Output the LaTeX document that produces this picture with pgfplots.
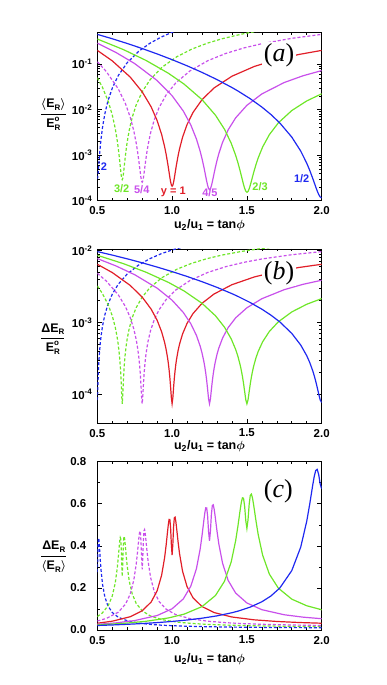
\documentclass[border=0pt]{standalone}
\usepackage{fontspec}
\setmainfont{Liberation Sans}
\newfontfamily\serifit{Liberation Serif}
\usepackage{pgfplots}
\pgfplotsset{compat=1.18}
\usepackage{pgfplotstable}

\definecolor{cblue}{RGB}{30,40,240}
\definecolor{cgreen}{RGB}{110,230,40}
\definecolor{cmag}{RGB}{200,80,235}
\definecolor{cred}{RGB}{225,30,40}

% columns: x, <E_R>/E_R^o, dE_R/E_R^o, dE_R/<E_R>
% y = 1
\pgfplotstableread{
x a b r
0.5 0.2003 0.006441 0.03215
0.6 0.1180 0.004940 0.04188
0.72 0.05191 0.003273 0.06306
0.8 0.02464 0.002250 0.09132
0.86 0.01151 0.001531 0.1330
0.9 0.005755 0.001073 0.1865
0.93 0.002851 0.0007421 0.2603
0.95 0.001533 0.0005275 0.3442
0.96 0.001049 0.0004223 0.4026
0.97 0.0006780 0.0003191 0.4706
0.975 0.0005337 0.0002685 0.5030
0.98 0.0004162 0.0002189 0.5259
0.985 0.0003253 0.0001710 0.5257
0.99 0.0002606 0.0001265 0.4856
0.995 0.0002216 0.00009010 0.4066
1.0 0.0002080 0.00007406 0.3561
1.005 0.0002194 0.00008965 0.4086
1.01 0.0002554 0.0001253 0.4905
1.015 0.0003157 0.0001685 0.5336
1.02 0.0003999 0.0002145 0.5365
1.025 0.0005077 0.0002618 0.5158
1.03 0.0006386 0.0003096 0.4849
1.04 0.0009685 0.0004058 0.4190
1.05 0.001387 0.0005018 0.3618
1.07 0.002478 0.0006920 0.2792
1.1 0.004713 0.0009712 0.2061
1.14 0.008704 0.001331 0.1529
1.2 0.01656 0.001845 0.1114
1.28 0.02987 0.002483 0.08312
1.4 0.05420 0.003349 0.06179
1.55 0.08903 0.004294 0.04823
1.7 0.1261 0.005111 0.04054
1.85 0.1635 0.005821 0.03561
2.0 0.2001 0.006440 0.03219
}\tabR

% y = 4/5
\pgfplotstableread{
x a b r
0.5 0.2884 0.007729 0.02680
0.625 0.1801 0.006106 0.03391
0.75 0.1027 0.004609 0.04488
0.9 0.04356 0.002998 0.06883
1.0 0.02022 0.002038 0.1008
1.075 0.009300 0.001376 0.1479
1.125 0.004612 0.0009599 0.2082
1.1625 0.002274 0.0006619 0.2910
1.1875 0.001223 0.0004700 0.3843
1.2 0.0008393 0.0003765 0.4485
1.2125 0.0005457 0.0002850 0.5223
1.21875 0.0004317 0.0002404 0.5569
1.225 0.0003391 0.0001969 0.5807
1.23125 0.0002675 0.0001553 0.5806
1.2375 0.0002165 0.0001172 0.5414
1.24375 0.0001857 0.00008688 0.4678
1.25 0.0001748 0.00007402 0.4234
1.25625 0.0001835 0.00008635 0.4707
1.2625 0.0002113 0.0001158 0.5481
1.26875 0.0002579 0.0001525 0.5914
1.275 0.0003230 0.0001922 0.5951
1.28125 0.0004062 0.0002332 0.5741
1.2875 0.0005072 0.0002748 0.5417
1.3 0.0007613 0.0003585 0.4709
1.3125 0.001083 0.0004422 0.4084
1.3375 0.001918 0.0006078 0.3169
1.375 0.003614 0.0008498 0.2351
1.425 0.006615 0.001160 0.1754
1.5 0.01245 0.001599 0.1285
1.6 0.02215 0.002138 0.09653
1.75 0.03950 0.002858 0.07237
1.875 0.05546 0.003389 0.06110
2.0 0.07209 0.003864 0.05361
}\tabM

% y = 2/3
\pgfplotstableread{
x a b r
0.5 0.3560 0.008588 0.02412
0.675 0.2082 0.006565 0.03154
0.825 0.1208 0.005000 0.04139
0.975 0.06306 0.003610 0.05725
1.08 0.03642 0.002741 0.07526
1.2 0.01660 0.001846 0.1112
1.29 0.007544 0.001238 0.1641
1.35 0.003719 0.0008608 0.2314
1.395 0.001832 0.0005924 0.3233
1.425 0.0009892 0.0004206 0.4252
1.44 0.0006826 0.0003372 0.4941
1.455 0.0004485 0.0002561 0.5709
1.4625 0.0003578 0.0002167 0.6056
1.47 0.0002841 0.0001785 0.6283
1.4775 0.0002271 0.0001423 0.6264
1.485 0.0001866 0.0001096 0.5875
1.4925 0.0001620 0.00008433 0.5204
1.5 0.0001532 0.00007395 0.4826
1.5075 0.0001598 0.00008375 0.5240
1.515 0.0001815 0.0001081 0.5957
1.5225 0.0002179 0.0001394 0.6395
1.53 0.0002688 0.0001736 0.6460
1.5375 0.0003338 0.0002093 0.6270
1.545 0.0004128 0.0002457 0.5952
1.56 0.0006110 0.0003191 0.5222
1.575 0.0008613 0.0003925 0.4557
1.605 0.001510 0.0005377 0.3562
1.65 0.002820 0.0007496 0.2658
1.71 0.005122 0.001020 0.1991
1.8 0.009551 0.001400 0.1466
1.9 0.01554 0.001790 0.1152
2.0 0.02232 0.002147 0.09622
}\tabG

% y = 1/2
\pgfplotstableread{
x a b r
0.5 0.4505 0.009661 0.02145
0.6 0.3607 0.008645 0.02397
0.7 0.2839 0.007669 0.02701
0.8 0.2199 0.006748 0.03069
0.9 0.1674 0.005888 0.03517
1.0 0.1253 0.005093 0.04065
1.1 0.09189 0.004360 0.04745
1.2 0.06581 0.003689 0.05606
1.3 0.04575 0.003075 0.06720
1.4 0.03060 0.002513 0.08213
1.44 0.02569 0.002302 0.08959
1.52 0.01757 0.001902 0.1082
1.6 0.01140 0.001529 0.1342
1.66 0.007848 0.001266 0.1614
1.72 0.005097 0.001017 0.1995
1.8 0.002494 0.0007043 0.2824
1.86 0.001228 0.0004842 0.3945
1.9 0.0006668 0.0003448 0.5171
1.92 0.0004639 0.0002777 0.5986
1.94 0.0003094 0.0002131 0.6886
1.95 0.0002497 0.0001821 0.7294
1.96 0.0002012 0.0001525 0.7580
1.97 0.0001637 0.0001250 0.7638
1.98 0.0001370 0.0001012 0.7387
1.99 0.0001208 0.00008380 0.6939
2.0 0.0001148 0.00007701 0.6708
}\tabB

% y = 3/2
\pgfplotstableread{
x a b r
0.5 0.05034 0.003221 0.06399
0.53333 0.03147 0.002542 0.08079
0.57333 0.01507 0.001751 0.1162
0.6 0.007661 0.001237 0.1615
0.62 0.003842 0.0008600 0.2238
0.63333 0.002083 0.0006129 0.2942
0.64 0.001432 0.0004909 0.3427
0.64667 0.0009301 0.0003703 0.3982
0.65 0.0007339 0.0003109 0.4236
0.65333 0.0005740 0.0002523 0.4395
0.65667 0.0004500 0.0001952 0.4338
0.66 0.0003615 0.0001412 0.3905
0.66333 0.0003083 0.00009525 0.3089
0.66667 0.0002901 0.00007386 0.2546
0.67 0.0003064 0.00009496 0.3099
0.67333 0.0003571 0.0001403 0.3929
0.67667 0.0004417 0.0001934 0.4378
0.68 0.0005600 0.0002492 0.4450
0.68333 0.0007117 0.0003061 0.4302
0.68667 0.0008964 0.0003636 0.4056
0.69333 0.001364 0.0004789 0.3513
0.7 0.001959 0.0005943 0.3034
0.71333 0.003525 0.0008238 0.2337
0.73333 0.006775 0.001163 0.1717
0.76 0.01269 0.001607 0.1266
0.8 0.02465 0.002250 0.09129
0.85333 0.04561 0.003068 0.06726
0.93333 0.08573 0.004211 0.04912
1.03333 0.1465 0.005508 0.03760
1.13333 0.2147 0.006670 0.03107
1.23333 0.2868 0.007709 0.02688
1.33333 0.3602 0.008640 0.02399
1.46667 0.4571 0.009735 0.02130
1.6 0.5507 0.01069 0.01940
1.8 0.6817 0.01189 0.01744
2.0 0.8001 0.01288 0.01610
}\tabGd

% y = 5/4
\pgfplotstableread{
x a b r
0.5 0.1128 0.004831 0.04281
0.56 0.06883 0.003770 0.05477
0.64 0.02868 0.002427 0.08464
0.688 0.01359 0.001663 0.1224
0.72 0.006863 0.001171 0.1707
0.744 0.003425 0.0008123 0.2372
0.76 0.001851 0.0005782 0.3124
0.768 0.001271 0.0004630 0.3644
0.776 0.0008239 0.0003494 0.4241
0.78 0.0006497 0.0002935 0.4518
0.784 0.0005079 0.0002386 0.4698
0.788 0.0003979 0.0001853 0.4656
0.792 0.0003196 0.0001351 0.4229
0.796 0.0002724 0.00009311 0.3418
0.8 0.0002561 0.00007399 0.2889
0.804 0.0002703 0.00009275 0.3432
0.808 0.0003146 0.0001341 0.4262
0.812 0.0003887 0.0001831 0.4711
0.816 0.0004922 0.0002349 0.4772
0.82 0.0006249 0.0002879 0.4607
0.824 0.0007862 0.0003413 0.4342
0.832 0.001194 0.0004487 0.3759
0.84 0.001712 0.0005561 0.3248
0.856 0.003070 0.0007691 0.2505
0.88 0.005872 0.001083 0.1845
0.912 0.01093 0.001491 0.1364
0.96 0.02104 0.002079 0.09883
1.024 0.03848 0.002818 0.07324
1.12 0.07116 0.003837 0.05392
1.24 0.1194 0.004972 0.04165
1.36 0.1721 0.005972 0.03470
1.48 0.2266 0.006853 0.03024
1.6 0.2810 0.007632 0.02716
1.8 0.3686 0.008742 0.02372
2.0 0.4501 0.009660 0.02146
}\tabMd

% y = 2
\pgfplotstableread{
x a b r
0.5 0.0003040 0.00008347 0.2746
0.5025 0.0003234 0.0001053 0.3257
0.505 0.0003825 0.0001532 0.4005
0.5075 0.0004811 0.0002098 0.4361
0.51 0.0006190 0.0002697 0.4357
0.5125 0.0007959 0.0003310 0.4158
0.515 0.001012 0.0003929 0.3884
0.52 0.001559 0.0005177 0.3322
0.525 0.002258 0.0006428 0.2847
0.535 0.004105 0.0008926 0.2174
0.55 0.007969 0.001264 0.1587
0.57 0.01508 0.001753 0.1163
0.6 0.02969 0.002471 0.08322
0.64 0.05589 0.003397 0.06078
0.7 0.1076 0.004719 0.04385
0.775 0.1892 0.006260 0.03309
0.85 0.2847 0.007681 0.02698
0.925 0.3896 0.008986 0.02307
1.0 0.5002 0.01018 0.02036
1.1 0.6518 0.01162 0.01784
1.25 0.8782 0.01349 0.01537
1.5 1.231 0.01598 0.01298
1.75 1.539 0.01786 0.01161
2.0 1.800 0.01932 0.01073
}\tabBd

\newcommand{\ufrac}[2]{{\setlength{\arrayrulewidth}{0.9pt}%
  \begin{tabular}{@{}c@{}}#1\\[1.5pt]\hline\rule{0pt}{13pt}#2\end{tabular}}}
\newcommand{\sub}[1]{\raisebox{-2.5pt}{\fontsize{8}{8}\selectfont #1}}
\newcommand{\ER}{E\sub{R}}
\newcommand{\ERo}{E\rlap{\raisebox{6pt}{\fontsize{8}{8}\selectfont o}}\sub{R}}
\newcommand{\avER}{{\boldmath$\langle$}\ER{\boldmath$\rangle$}}

\tikzset{
  dsh/.style={dash pattern=on 3bp off 2bp},
  plab/.style={fill=white, inner sep=1.5bp, font=\serifit\fontsize{26}{26}\selectfont},
  clab/.style={font=\fontsize{11}{12}\selectfont\bfseries},
}

\pgfplotsset{
  panel/.style={
    scale only axis, width=224.4bp,
    xmin=0.5, xmax=2,
    xtick={0.5,1,1.5,2}, xticklabels={0.5,1.0,1.5,2.0},
    minor x tick num=4,
    tick align=inside,
    major tick length=4.5bp, minor tick length=2.5bp,
    axis line style={line width=0.8bp},
    tick style={black, line width=0.6bp},
    tick label style={font=\fontsize{11.5}{13}\selectfont\bfseries},
    xticklabel style={yshift=-2.5bp},
    yticklabel style={xshift=-1.5bp},
    label style={font=\fontsize{12.5}{15}\selectfont\bfseries},
    xlabel={u\textsubscript{2}/u\textsubscript{1} = tan{\boldmath$\phi$}},
    ylabel style={rotate=-90, anchor=center},
    every axis plot/.append style={line width=1.2bp},
  },
}

\begin{document}
\begin{tikzpicture}
\path[use as bounding box] (0,0) rectangle (387bp,685bp);

% (a)
\begin{axis}[panel, at={(97.3bp,484.3bp)}, anchor=south west, height=168.4bp,
  ymode=log, ymin=1e-4, ymax=0.5,
  ytick={1e-4,1e-3,1e-2,1e-1},
  yticklabels={10\textsuperscript{-4},10\textsuperscript{-3},10\textsuperscript{-2},10\textsuperscript{-1}},
  xlabel style={at={(axis description cs:0.5,0)}, anchor=center, yshift=-24.5bp},
  ylabel={\ufrac{\avER}{\ERo}},
  ylabel style={at={(axis description cs:-0.196,0.51)}},
]
\addplot[cblue, dsh] table[x=x, y=a] {\tabBd};
\addplot[cgreen, dsh] table[x=x, y=a] {\tabGd};
\addplot[cmag, dsh] table[x=x, y=a] {\tabMd};
\addplot[cred] table[x=x, y=a] {\tabR};
\addplot[cmag] table[x=x, y=a] {\tabM};
\addplot[cgreen] table[x=x, y=a] {\tabG};
\addplot[cblue] table[x=x, y=a] {\tabB};
\node[clab, text=cblue] at (axis cs:0.545,5.6e-4) {2};
\node[clab, text=cgreen] at (axis cs:0.663,1.87e-4) {3/2};
\node[clab, text=cmag] at (axis cs:0.797,1.72e-4) {5/4};
\node[clab, text=cred] at (axis cs:1.008,1.58e-4) {y = 1};
\node[clab, text=cmag] at (axis cs:1.253,1.5e-4) {4/5};
\node[clab, text=cgreen] at (axis cs:1.588,2.03e-4) {2/3};
\node[clab, text=cblue] at (axis cs:1.866,3.1e-4) {1/2};
\node[plab] at (axis cs:1.715,0.16) {(\textit{a})};
\end{axis}

% (b)
\begin{axis}[panel, at={(97.3bp,262bp)}, anchor=south west, height=174bp,
  ymode=log, ymin=4e-5, ymax=1.05e-2,
  ytick={1e-4,1e-3,1e-2},
  yticklabels={10\textsuperscript{-4},10\textsuperscript{-3},10\textsuperscript{-2}},
  xlabel style={at={(axis description cs:0.5,0)}, anchor=center, yshift=-23bp},
  ylabel={\ufrac{ΔE\sub{R}}{\ERo}},
  ylabel style={at={(axis description cs:-0.198,0.483)}},
]
\addplot[cblue, dsh] table[x=x, y=b] {\tabBd};
\addplot[cgreen, dsh] table[x=x, y=b] {\tabGd};
\addplot[cmag, dsh] table[x=x, y=b] {\tabMd};
\addplot[cred] table[x=x, y=b] {\tabR};
\addplot[cmag] table[x=x, y=b] {\tabM};
\addplot[cgreen] table[x=x, y=b] {\tabG};
\addplot[cblue] table[x=x, y=b] {\tabB};
\node[plab] at (axis cs:1.715,4.9e-3) {(\textit{b})};
\end{axis}

% (c)
\begin{axis}[panel, at={(97.3bp,55bp)}, anchor=south west, height=168.3bp,
  ymin=0, ymax=0.8,
  ytick={0,0.2,0.4,0.6,0.8},
  yticklabels={0.0,0.2,0.4,0.6,0.8},
  minor y tick num=1,
  yticklabel style={xshift=-6bp},
  xlabel style={at={(axis description cs:0.5,0)}, anchor=center, yshift=-29bp},
  ylabel={\ufrac{ΔE\sub{R}}{\avER}},
  ylabel style={at={(axis description cs:-0.194,0.436)}},
]
\addplot[cblue, dsh] table[x=x, y=r] {\tabBd};
\addplot[cgreen, dsh] table[x=x, y=r] {\tabGd};
\addplot[cmag, dsh] table[x=x, y=r] {\tabMd};
\addplot[cred] table[x=x, y=r] {\tabR};
\addplot[cmag] table[x=x, y=r] {\tabM};
\addplot[cgreen] table[x=x, y=r] {\tabG};
\addplot[cblue] table[x=x, y=r] {\tabB};
\node[plab] at (axis cs:1.71,0.658) {(\textit{c})};
\end{axis}
\end{tikzpicture}
\end{document}
